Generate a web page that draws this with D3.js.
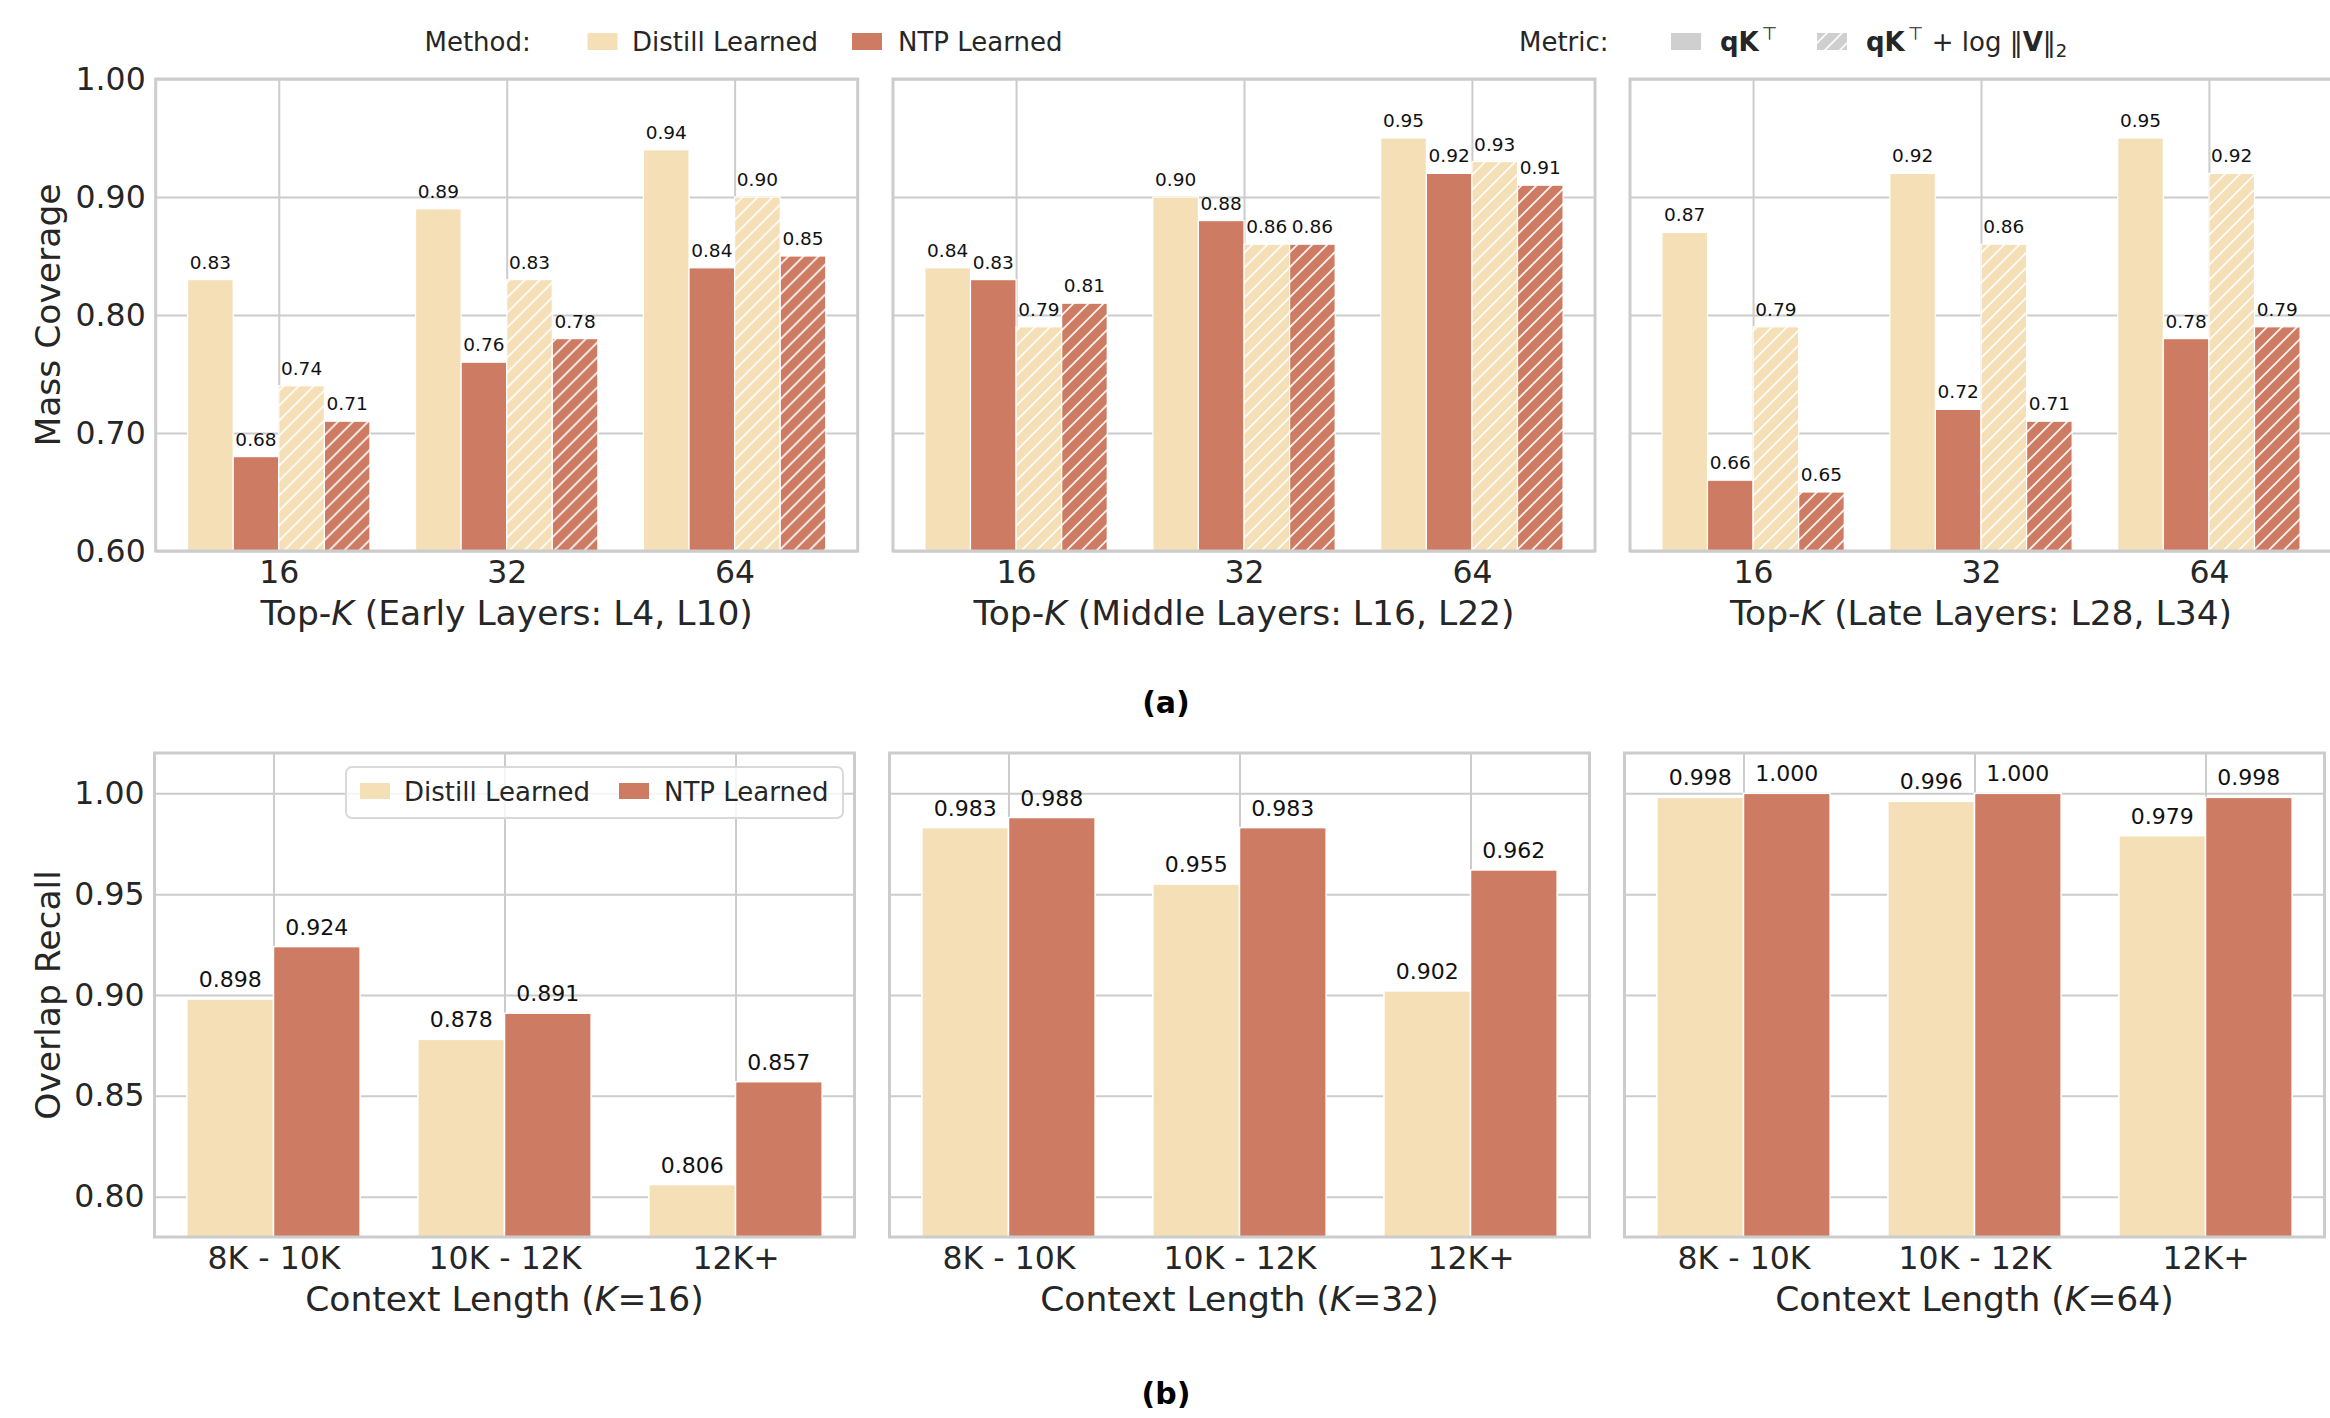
<!DOCTYPE html>
<html>
<head>
<meta charset="utf-8">
<script src="https://cdn.jsdelivr.net/npm/d3@7"></script>
<style>
    body { margin: 0; background: #fff; }
    text { font-family: "DejaVu Sans", sans-serif; }
</style>
</head>
<body>
<div id="chart"></div>
<script>
// ---- data ----
const topKCategories = ["16", "32", "64"];
const layerGroups = ["Early Layers: L4, L10", "Middle Layers: L16, L22", "Late Layers: L28, L34"];
const methods = ["Distill Learned", "NTP Learned"];

// mass coverage, one row per layer group, columns = top-K
const distillQK = [[0.83, 0.89, 0.94], [0.84, 0.90, 0.95], [0.87, 0.92, 0.95]];
const ntpQK = [[0.68, 0.76, 0.84], [0.83, 0.88, 0.92], [0.66, 0.72, 0.78]];
const distillQKV = [[0.74, 0.83, 0.90], [0.79, 0.86, 0.93], [0.79, 0.86, 0.92]];
const ntpQKV = [[0.71, 0.78, 0.85], [0.81, 0.86, 0.91], [0.65, 0.71, 0.79]];
const massTicks = [0.60, 0.70, 0.80, 0.90, 1.00];

// overlap recall, one row per K, columns = context length bucket
const contextBuckets = ["8K - 10K", "10K - 12K", "12K+"];
const recallK = ["16", "32", "64"];
const distillRecall = [[0.898, 0.878, 0.806], [0.983, 0.955, 0.902], [0.998, 0.996, 0.979]];
const ntpRecall = [[0.924, 0.891, 0.857], [0.988, 0.983, 0.962], [1.000, 1.000, 0.998]];
const recallTicks = [0.80, 0.85, 0.90, 0.95, 1.00];

// ---- style ----
const colDistill = "#f5dfb6";
const colNTP = "#cd7b63";
const gridCol = "#cccccc";
const textCol = "#262626";
const labelSize = "34.5px";

const W = 2330, H = 1418;
const svg = d3.select("#chart").append("svg")
    .attr("width", W)
    .attr("height", H);

const defs = svg.append("defs");
function addHatch(id, bg) {
    const p = defs.append("pattern")
        .attr("id", id)
        .attr("patternUnits", "userSpaceOnUse")
        .attr("width", 15)
        .attr("height", 15);
    p.append("rect").attr("width", 15).attr("height", 15).attr("fill", bg);
    p.append("path")
        .attr("d", "M-2,2 L2,-2 M0,15 L15,0 M13,17 L17,13")
        .attr("stroke", "#fff")
        .attr("stroke-opacity", 0.9)
        .attr("stroke-width", 1.8);
}
addHatch("hatch-distill", colDistill);
addHatch("hatch-ntp", colNTP);
addHatch("hatch-gray", "#cfcfcf");

// draws a panel frame with grid + axes, returns {g, x, y}
function makePanel(left, top, width, height, xDomain, yDomain, yTicks, yFmt, cats, showY) {
    const g = svg.append("g").attr("transform", `translate(${left},${top})`);
    const x = d3.scaleLinear().domain(xDomain).range([0, width]);
    const y = d3.scaleLinear().domain(yDomain).range([height, 0]);

    // horizontal grid + y ticks
    const yAxis = g.append("g")
        .call(d3.axisLeft(y).tickValues(yTicks).tickSize(-width).tickPadding(10)
            .tickFormat(showY ? d3.format(yFmt) : ""));
    // vertical grid + x ticks
    const xAxis = g.append("g")
        .attr("transform", `translate(0,${height})`)
        .call(d3.axisBottom(x).tickValues(cats.map((c, i) => i)).tickSize(-height).tickPadding(10)
            .tickFormat(i => cats[i]));

    [yAxis, xAxis].forEach(a => {
        a.select(".domain").remove();
        a.selectAll(".tick line").attr("stroke", gridCol).attr("stroke-width", 2);
        a.selectAll(".tick text")
            .attr("fill", textCol)
            .style("font-size", "31.5px");
    });

    g.append("rect")
        .attr("class", "frame")
        .attr("width", width)
        .attr("height", height)
        .attr("fill", "none")
        .attr("stroke", gridCol)
        .attr("stroke-width", 3);

    return { g, x, y };
}

function xLabel(g, cx, yPos, before, italic, after) {
    const t = g.append("text")
        .attr("x", cx)
        .attr("y", yPos)
        .attr("text-anchor", "middle")
        .attr("fill", textCol)
        .style("font-size", labelSize);
    t.append("tspan").text(before);
    t.append("tspan").style("font-style", "italic").text(italic);
    t.append("tspan").text(after);
}

// ---- (a) mass coverage ----
const topLefts = [155.7, 893, 1630];
const topW = 702, topTop = 79, topH = 472;
const seriesA = [
    { vals: distillQK, fill: colDistill, off: -0.4 },
    { vals: ntpQK, fill: colNTP, off: -0.2 },
    { vals: distillQKV, fill: "url(#hatch-distill)", off: 0.0 },
    { vals: ntpQKV, fill: "url(#hatch-ntp)", off: 0.2 }
];

layerGroups.forEach((grp, p) => {
    const panel = makePanel(topLefts[p], topTop, topW, topH, [-0.54, 2.54], [0.6, 1.0],
        massTicks, ".2f", topKCategories, p === 0);
    const { g, x, y } = panel;
    const barW = 0.2;

    seriesA.forEach(s => {
        const rows = s.vals[p].map((v, i) => ({ i, v }));
        g.selectAll(null)
            .data(rows)
            .enter()
            .append("rect")
            .attr("x", d => x(d.i + s.off))
            .attr("width", x(barW) - x(0))
            .attr("y", d => y(d.v))
            .attr("height", d => y(0.6) - y(d.v))
            .attr("fill", s.fill)
            .attr("stroke", "#fff")
            .attr("stroke-width", 1.2);

        g.selectAll(null)
            .data(rows)
            .enter()
            .append("text")
            .attr("x", d => x(d.i + s.off + barW / 2))
            .attr("y", d => y(d.v) - 11)
            .attr("text-anchor", "middle")
            .attr("fill", "#111")
            .style("font-size", "18.5px")
            .text(d => d.v.toFixed(2));
    });

    g.select(".frame").raise();
    xLabel(g, topW / 2, topH + 74, "Top-", "K", ` (${grp})`);
});

svg.append("text")
    .attr("transform", `translate(60,${topTop + topH / 2}) rotate(-90)`)
    .attr("text-anchor", "middle")
    .attr("fill", textCol)
    .style("font-size", labelSize)
    .text("Mass Coverage");

// top legends
const legY = 51;
function legendText(xPos, txt) {
    return svg.append("text")
        .attr("x", xPos)
        .attr("y", legY)
        .attr("fill", textCol)
        .style("font-size", "26px")
        .text(txt);
}
function legendPatch(xPos, fill) {
    svg.append("rect")
        .attr("x", xPos).attr("y", 33)
        .attr("width", 30).attr("height", 17)
        .attr("fill", fill);
}
legendText(424.5, "Method:");
legendPatch(587.5, colDistill);
legendText(632, methods[0]);
legendPatch(852, colNTP);
legendText(898, methods[1]);

legendText(1519, "Metric:");
legendPatch(1671, "#cfcfcf");
const m1 = legendText(1720, "");
m1.append("tspan").style("font-weight", "bold").text("qK");
m1.append("tspan").attr("dx", 3).attr("dy", -11).style("font-size", "18px").text("\u22A4");
legendPatch(1817, "url(#hatch-gray)");
const m2 = legendText(1866, "");
m2.append("tspan").style("font-weight", "bold").text("qK");
m2.append("tspan").attr("dx", 3).attr("dy", -11).style("font-size", "18px").text("\u22A4");
m2.append("tspan").attr("dy", 11).text(" + log \u2016");
m2.append("tspan").style("font-weight", "bold").text("V");
m2.append("tspan").text("\u2016");
m2.append("tspan").attr("dy", 6).style("font-size", "18px").text("2");

svg.append("text")
    .attr("x", 1166)
    .attr("y", 713)
    .attr("text-anchor", "middle")
    .attr("fill", "#000")
    .style("font-size", "30px")
    .style("font-weight", "bold")
    .text("(a)");

// ---- (b) overlap recall ----
const botLefts = [154.5, 889.5, 1624.5];
const botW = 700, botTop = 753, botH = 484;
const seriesB = [
    { vals: distillRecall, fill: colDistill, off: -0.375 },
    { vals: ntpRecall, fill: colNTP, off: 0 }
];

recallK.forEach((k, p) => {
    const panel = makePanel(botLefts[p], botTop, botW, botH, [-0.515, 2.515], [0.78, 1.02],
        recallTicks, ".2f", contextBuckets, p === 0);
    const { g, x, y } = panel;
    const barW = 0.375;

    seriesB.forEach(s => {
        const rows = s.vals[p].map((v, i) => ({ i, v }));
        g.selectAll(null)
            .data(rows)
            .enter()
            .append("rect")
            .attr("x", d => x(d.i + s.off))
            .attr("width", x(barW) - x(0))
            .attr("y", d => y(d.v))
            .attr("height", d => y(0.78) - y(d.v))
            .attr("fill", s.fill)
            .attr("stroke", "#fff")
            .attr("stroke-width", 1.5);

        g.selectAll(null)
            .data(rows)
            .enter()
            .append("text")
            .attr("x", d => x(d.i + s.off + barW / 2))
            .attr("y", d => y(d.v) - 12)
            .attr("text-anchor", "middle")
            .attr("fill", "#111")
            .style("font-size", "22px")
            .text(d => d.v.toFixed(3));
    });

    g.select(".frame").raise();
    xLabel(g, botW / 2, botH + 74, "Context Length (", "K", `=${k})`);

    if (p === 0) {
        // in-axes legend
        const lg = g.append("g").attr("transform", `translate(${346 - botLefts[0]},${767 - botTop})`);
        lg.append("rect")
            .attr("width", 497).attr("height", 51).attr("rx", 6)
            .attr("fill", "#fff").attr("fill-opacity", 0.8)
            .attr("stroke", "#d9d9d9").attr("stroke-width", 2);
        [[14, colDistill, 58, methods[0]], [273, colNTP, 318, methods[1]]].forEach(([px, fill, tx, label]) => {
            lg.append("rect").attr("x", px).attr("y", 16).attr("width", 30).attr("height", 16).attr("fill", fill);
            lg.append("text").attr("x", tx).attr("y", 33.5)
                .attr("fill", textCol).style("font-size", "26px").text(label);
        });
    }
});

svg.append("text")
    .attr("transform", `translate(60,${botTop + botH / 2}) rotate(-90)`)
    .attr("text-anchor", "middle")
    .attr("fill", textCol)
    .style("font-size", labelSize)
    .text("Overlap Recall");

svg.append("text")
    .attr("x", 1166)
    .attr("y", 1404)
    .attr("text-anchor", "middle")
    .attr("fill", "#000")
    .style("font-size", "30px")
    .style("font-weight", "bold")
    .text("(b)");
</script>
</body>
</html>
